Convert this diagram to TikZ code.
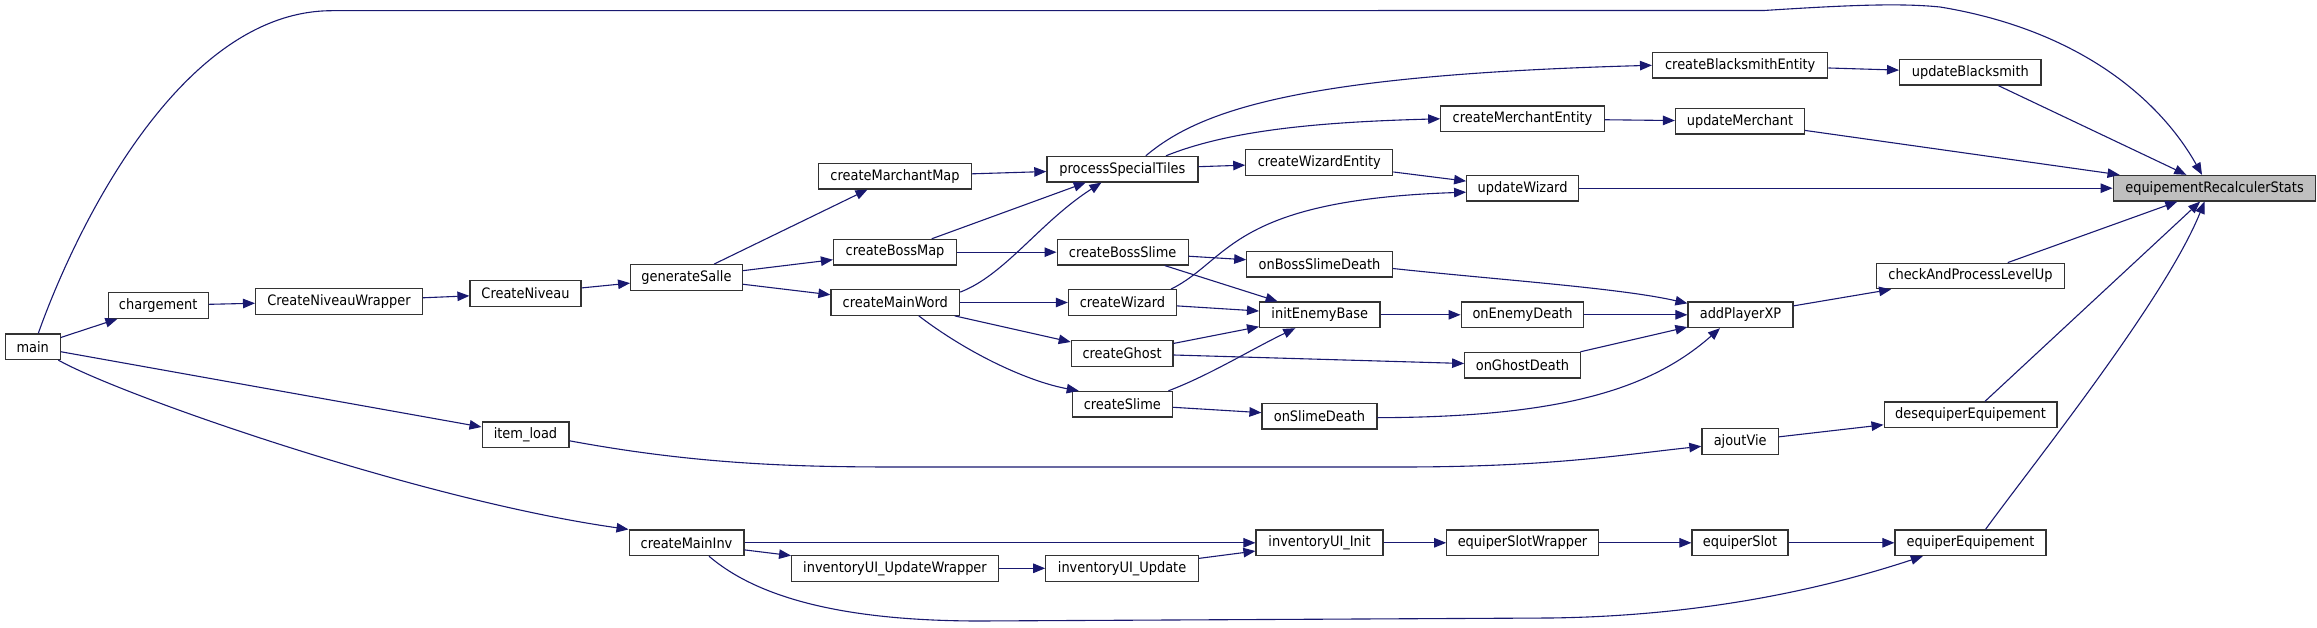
\documentclass[tikz,border=0pt]{standalone}
\usepackage{fontspec}
\newfontfamily\dvs{DejaVu Sans Condensed}
\usetikzlibrary{arrows.meta}
\definecolor{edgeblue}{HTML}{191970}
\definecolor{rootgray}{HTML}{BFBFBF}
\definecolor{boxline}{HTML}{333333}
\tikzset{
  box/.style={draw=boxline, fill=white, line width=1.2pt, minimum height=25.6pt, inner sep=0pt,
    font=\dvs\fontsize{14.4}{16}\selectfont},
  rootbox/.style={box, fill=rootgray},
  edge/.style={draw=edgeblue, line width=1.1pt, -{Triangle[length=12pt,width=9.5pt]}}
}
\begin{document}
\begin{tikzpicture}[x=1pt,y=-1pt]
\useasboundingbox (0,0) rectangle (2317,628);
% nodes
\node[box,minimum width=55pt] (main) at (32.7,346.7) {main};
\node[box,minimum width=100pt] (chargement) at (158.2,305.5) {chargement};
\node[box,minimum width=166.8pt] (cnw) at (339,301.3) {CreateNiveauWrapper};
\node[box,minimum width=111pt] (cn) at (525.5,293.5) {CreateNiveau};
\node[box,minimum width=111.7pt] (gs) at (686.5,277.5) {generateSalle};
\node[box,minimum width=86.8pt] (itemload) at (525.5,434.8) {item\_load};
\node[box,minimum width=114.8pt] (cmi) at (686.5,542.8) {createMainInv};
\node[box,minimum width=152.5pt] (cmm) at (895,176.2) {createMarchantMap};
\node[box,minimum width=151pt] (pst) at (1122.4,169.2) {processSpecialTiles};
\node[box,minimum width=147pt] (cwe) at (1319.3,162.7) {createWizardEntity};
\node[box,minimum width=163.5pt] (cme) at (1522.5,118.8) {createMerchantEntity};
\node[box,minimum width=111.8pt] (uw) at (1522.6,188.2) {updateWizard};
\node[box,minimum width=123pt] (cbm) at (895,252.2) {createBossMap};
\node[box,minimum width=131pt] (cbs) at (1122.6,252.2) {createBossSlime};
\node[box,minimum width=145.4pt] (obsd) at (1319.5,264.2) {onBossSlimeDeath};
\node[box,minimum width=128.6pt] (cmw) at (895.3,302.5) {createMainWord};
\node[box,minimum width=108pt] (cw) at (1122.4,302.5) {createWizard};
\node[box,minimum width=120.4pt] (ieb) at (1319.8,314.8) {initEnemyBase};
\node[box,minimum width=122.7pt] (oed) at (1522.5,314.8) {onEnemyDeath};
\node[box,minimum width=175.3pt] (cbe) at (1740.2,65.3) {createBlacksmithEntity};
\node[box,minimum width=141.4pt] (ub) at (1970.3,72.3) {updateBlacksmith};
\node[box,minimum width=129pt] (um) at (1740,121.3) {updateMerchant};
\node[rootbox,minimum width=202.7pt] (ers) at (2214.5,188.2) {equipementRecalculerStats};
\node[box,minimum width=188.7pt] (caplu) at (1970.5,276) {checkAndProcessLevelUp};
\node[box,minimum width=105pt] (apx) at (1740.5,314.8) {addPlayerXP};
\node[box,minimum width=101.6pt] (cg) at (1122.1,353.5) {createGhost};
\node[box,minimum width=115.6pt] (ogd) at (1522.5,365.2) {onGhostDeath};
\node[box,minimum width=100pt] (cs) at (1122.3,404.2) {createSlime};
\node[box,minimum width=115pt] (osd) at (1319.5,416.2) {onSlimeDeath};
\node[box,minimum width=127pt] (uii) at (1319.5,542.8) {inventoryUI\_Init};
\node[box,minimum width=151.5pt] (esw) at (1522.5,542.8) {equiperSlotWrapper};
\node[box,minimum width=206.7pt] (uiuw) at (895,568.3) {inventoryUI\_UpdateWrapper};
\node[box,minimum width=152.6pt] (uiu) at (1122.1,568.3) {inventoryUI\_Update};
\node[box,minimum width=172.8pt] (deq) at (1970.5,414.8) {desequiperEquipement};
\node[box,minimum width=76.6pt] (av) at (1740.2,441.3) {ajoutVie};
\node[box,minimum width=96pt] (es) at (1740,542.8) {equiperSlot};
\node[box,minimum width=151pt] (eeq) at (1970.5,542.8) {equiperEquipement};
% straight edges
\draw[edge] (main) -- (chargement);
\draw[edge] (chargement) -- (cnw);
\draw[edge] (cnw) -- (cn);
\draw[edge] (cn) -- (gs);
\draw[edge] (gs) -- (cmm);
\draw[edge] (gs) -- (cbm);
\draw[edge] (gs) -- (cmw);
\draw[edge] (cmm) -- (pst);
\draw[edge] (cbm) -- (pst);
\draw[edge] (pst) -- (cwe);
\draw[edge] (cwe) -- (uw);
\draw[edge] (cme) -- (um);
\draw[edge] (cbe) -- (ub);
\draw[edge] (ub) -- (ers);
\draw[edge] (um) -- (ers);
\draw[edge] (uw) -- (ers);
\draw[edge] (cbm) -- (cbs);
\draw[edge] (cbs) -- (obsd);
\draw[edge] (cbs) -- (ieb);
\draw[edge] (cmw) -- (cw);
\draw[edge] (cw) -- (ieb);
\draw[edge] (cmw) -- (cg);
\draw[edge] (cg) -- (ieb);
\draw[edge] (cg) -- (ogd);
\draw[edge] (cs) -- (osd);
\draw[edge] (ieb) -- (oed);
\draw[edge] (oed) -- (apx);
\draw[edge] (ogd) -- (apx);
\draw[edge] (apx) -- (caplu);
\draw[edge] (caplu) -- (ers);
\draw[edge] (main) -- (itemload);
\draw[edge] (av) -- (deq);
\draw[edge] (deq) -- (ers);
\draw[edge] (cmi) -- (uii);
\draw[edge] (cmi) -- (uiuw);
\draw[edge] (uiuw) -- (uiu);
\draw[edge] (uiu) -- (uii);
\draw[edge] (uii) -- (esw);
\draw[edge] (esw) -- (es);
\draw[edge] (es) -- (eeq);
% curved edges
\draw[edge] ([xshift=5.6pt]main.north) .. controls (75,230) and (180,11) .. (331.6,10.7)
  -- (1764,10.5) .. controls (1850,5) and (1900,3) .. (1940,7)
  .. controls (2080,30) and (2160,100) .. ([xshift=-12.5pt]ers.north);
\draw[edge] ([yshift=-3pt]cmw.north east) .. controls (1005,275) and (1040,222) .. ([xshift=-21pt]pst.south);
\draw[edge] ([xshift=43.6pt]pst.north) .. controls (1230,130) and (1320,122) .. (cme.west);
\draw[edge] ([xshift=23.4pt]pst.north) .. controls (1200,110) and (1300,75) .. (cbe.west);
\draw[edge] ([xshift=-6pt]cw.north east) .. controls (1230,260) and (1230,200) .. ([yshift=-4pt]uw.west);
\draw[edge] ([xshift=23.5pt]cmw.south) .. controls (970,355) and (1030,382) .. ([xshift=7pt]cs.north west);
\draw[edge] ([xshift=-4.5pt]cs.north east) .. controls (1210,375) and (1250,350) .. ([xshift=-24.5pt]ieb.south);
\draw[edge] ([yshift=-4.3pt]obsd.east) .. controls (1500,280) and (1620,288) .. ([yshift=-2pt]apx.north west);
\draw[edge] ([yshift=-1.5pt]osd.east) .. controls (1560,417) and (1650,390) .. ([xshift=-20.5pt]apx.south);
\draw[edge] ([yshift=-6pt]itemload.east) .. controls (700,465) and (800,467) .. (900,467)
  -- (1400,467) .. controls (1550,467) and (1620,455) .. ([yshift=-5pt]av.west);
\draw[edge] ([xshift=-2.5pt]main.south east) .. controls (120,395) and (420,500) .. (cmi.north west);
\draw[edge] ([xshift=22.5pt]cmi.south) .. controls (760,600) and (850,621) .. (980,621)
  -- (1550,618) .. controls (1700,616) and (1820,590) .. ([xshift=28.4pt]eeq.south west);
\draw[edge] ([xshift=15pt]eeq.north) .. controls (2030,468) and (2165,300) .. ([xshift=-10pt]ers.south);
\end{tikzpicture}
\end{document}
